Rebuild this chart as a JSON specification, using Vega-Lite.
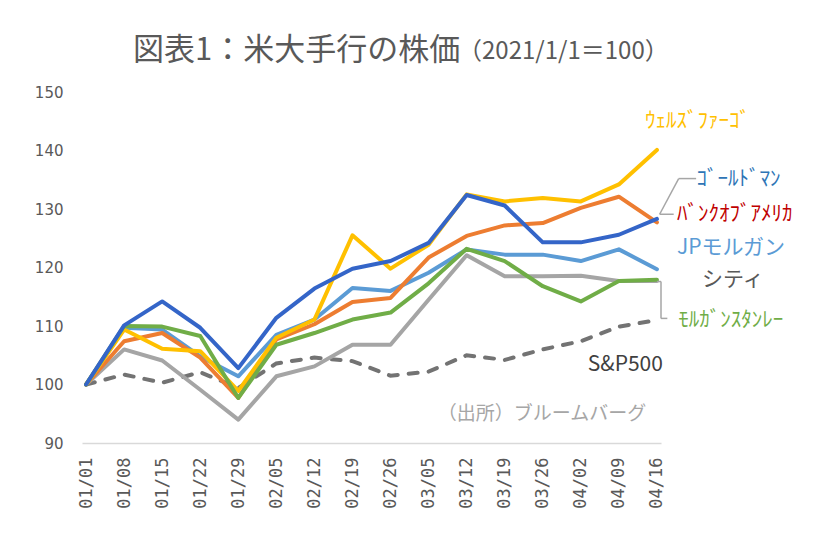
{
  "$schema": "https://vega.github.io/schema/vega-lite/v6.json",
  "width": 579,
  "height": 351,
  "autosize": {"type": "none"},
  "padding": {"left": 82, "top": 92, "right": 161, "bottom": 104},
  "background": "white",
  "datasets": {
    "prices": [
      {"date": "2021-01-01", "wells": 100, "goldman": 100, "bofa": 100, "jpm": 100, "citi": 100, "ms": 100, "sp": 100},
      {"date": "2021-01-08", "wells": 109.4, "goldman": 110.1, "bofa": 107.4, "jpm": 109.7, "citi": 106.0, "ms": 110.0, "sp": 101.7},
      {"date": "2021-01-15", "wells": 106.1, "goldman": 114.2, "bofa": 108.8, "jpm": 109.4, "citi": 104.1, "ms": 109.9, "sp": 100.3},
      {"date": "2021-01-22", "wells": 105.7, "goldman": 109.7, "bofa": 104.6, "jpm": 104.8, "citi": 99.1, "ms": 108.3, "sp": 102.1},
      {"date": "2021-01-29", "wells": 98.9, "goldman": 102.8, "bofa": 97.7, "jpm": 101.4, "citi": 94.0, "ms": 97.7, "sp": 99.4},
      {"date": "2021-02-05", "wells": 108.0, "goldman": 111.4, "bofa": 107.7, "jpm": 108.5, "citi": 101.4, "ms": 106.8, "sp": 103.6},
      {"date": "2021-02-12", "wells": 111.1, "goldman": 116.4, "bofa": 110.3, "jpm": 111.1, "citi": 103.1, "ms": 108.8, "sp": 104.6},
      {"date": "2021-02-19", "wells": 125.5, "goldman": 119.8, "bofa": 114.1, "jpm": 116.5, "citi": 106.8, "ms": 111.1, "sp": 104.0},
      {"date": "2021-02-26", "wells": 119.8, "goldman": 121.1, "bofa": 114.8, "jpm": 116.0, "citi": 106.8, "ms": 112.3, "sp": 101.5},
      {"date": "2021-03-05", "wells": 123.9, "goldman": 124.2, "bofa": 121.7, "jpm": 119.1, "citi": 114.5, "ms": 117.3, "sp": 102.2},
      {"date": "2021-03-12", "wells": 132.5, "goldman": 132.4, "bofa": 125.4, "jpm": 123.1, "citi": 122.1, "ms": 123.2, "sp": 105.0},
      {"date": "2021-03-19", "wells": 131.3, "goldman": 130.6, "bofa": 127.2, "jpm": 122.2, "citi": 118.5, "ms": 121.1, "sp": 104.2},
      {"date": "2021-03-26", "wells": 131.9, "goldman": 124.3, "bofa": 127.6, "jpm": 122.2, "citi": 118.5, "ms": 116.8, "sp": 106.0},
      {"date": "2021-04-02", "wells": 131.3, "goldman": 124.3, "bofa": 130.2, "jpm": 121.1, "citi": 118.6, "ms": 114.2, "sp": 107.4},
      {"date": "2021-04-09", "wells": 134.2, "goldman": 125.6, "bofa": 132.1, "jpm": 123.1, "citi": 117.7, "ms": 117.7, "sp": 109.9},
      {"date": "2021-04-16", "wells": 140.1, "goldman": 128.3, "bofa": 127.7, "jpm": 119.7, "citi": 117.7, "ms": 117.9, "sp": 111.0}
    ],
    "labels": [
      {"label": "ｳｪﾙｽﾞﾌｧｰｺﾞ", "date": "2021-04-13T19:00:00Z", "value": 145.1},
      {"label": "ｺﾞｰﾙﾄﾞﾏﾝ", "date": "2021-04-23T07:00:00Z", "value": 135.2},
      {"label": "ﾊﾞﾝｸｵﾌﾞｱﾒﾘｶ", "date": "2021-04-19T17:00:00Z", "value": 129.1},
      {"label": "JPモルガン", "date": "2021-04-19T17:00:00Z", "value": 123.4},
      {"label": "シティ", "date": "2021-04-24T07:00:00Z", "value": 117.9},
      {"label": "ﾓﾙｶﾞﾝｽﾀﾝﾚｰ", "date": "2021-04-19T22:00:00Z", "value": 111.1},
      {"label": "S&P500", "date": "2021-04-03T07:00:00Z", "value": 103.4}
    ],
    "notes": [
      {"label": "（出所）ブルームバーグ", "date": "2021-03-06T17:00:00Z", "value": 95.0}
    ],
    "heading": [
      {"label": "図表1：米大手行の株価", "date": "2021-01-09T15:00:00Z", "value": 157.0}
    ],
    "subheading": [
      {"label": "（2021/1/1＝100）", "date": "2021-03-10T10:00:00Z", "value": 156.9}
    ],
    "leaders": [
      {"date": "2021-04-23T05:00:00Z", "value": 135.2, "date2": "2021-04-20T00:00:00Z", "value2": 135.2},
      {"date": "2021-04-20T00:00:00Z", "value": 135.2, "date2": "2021-04-16T12:00:00Z", "value2": 129.1},
      {"date": "2021-04-16T12:00:00Z", "value": 129.1, "date2": "2021-04-19T02:00:00Z", "value2": 129.1},
      {"date": "2021-04-16T00:00:00Z", "value": 117.6, "date2": "2021-04-16T18:00:00Z", "value2": 117.6},
      {"date": "2021-04-16T18:00:00Z", "value": 117.6, "date2": "2021-04-16T18:00:00Z", "value2": 111.3},
      {"date": "2021-04-16T18:00:00Z", "value": 111.3, "date2": "2021-04-17T22:00:00Z", "value2": 111.3}
    ]
  },
  "resolve": {"scale": {"color": "independent"}},
  "layer": [
    {
      "data": {"name": "prices"},
      "mark": {"type": "line", "strokeWidth": 4, "strokeDash": [9, 11], "strokeCap": "round", "color": "#737373"},
      "encoding": {
        "x": {
          "field": "date", "type": "temporal",
          "scale": {"type": "utc", "domain": [{"year": 2020, "month": 12, "date": 31, "hours": 6, "utc": true}, {"year": 2021, "month": 4, "date": 16, "hours": 18, "utc": true}]},
          "axis": {
            "title": null,
            "labelExpr": "utcFormat(datum.value, '%m/%d')",
            "tickCount": 40,
            "values": [
              {"year": 2021, "month": 1, "date": 1, "utc": true},
              {"year": 2021, "month": 1, "date": 8, "utc": true},
              {"year": 2021, "month": 1, "date": 15, "utc": true},
              {"year": 2021, "month": 1, "date": 22, "utc": true},
              {"year": 2021, "month": 1, "date": 29, "utc": true},
              {"year": 2021, "month": 2, "date": 5, "utc": true},
              {"year": 2021, "month": 2, "date": 12, "utc": true},
              {"year": 2021, "month": 2, "date": 19, "utc": true},
              {"year": 2021, "month": 2, "date": 26, "utc": true},
              {"year": 2021, "month": 3, "date": 5, "utc": true},
              {"year": 2021, "month": 3, "date": 12, "utc": true},
              {"year": 2021, "month": 3, "date": 19, "utc": true},
              {"year": 2021, "month": 3, "date": 26, "utc": true},
              {"year": 2021, "month": 4, "date": 2, "utc": true},
              {"year": 2021, "month": 4, "date": 9, "utc": true},
              {"year": 2021, "month": 4, "date": 16, "utc": true}
            ],
            "labelAngle": -90,
            "labelAlign": "right",
            "labelBaseline": "middle",
            "labelFont": "DejaVu Sans Mono",
            "labelFontSize": 17,
            "labelColor": "#595959",
            "labelPadding": 14,
            "labelOverlap": false,
            "labelBound": false,
            "labelFlush": false,
            "labelSeparation": 0,
            "ticks": false,
            "grid": false,
            "domain": true,
            "domainColor": "#D9D9D9",
            "domainWidth": 1.5
          }
        },
        "y": {
          "field": "sp", "type": "quantitative",
          "scale": {"domain": [90, 150], "nice": false, "zero": false},
          "axis": {
            "title": null,
            "values": [90, 100, 110, 120, 130, 140, 150],
            "labelFont": "DejaVu Sans",
            "labelFontSize": 15,
            "labelColor": "#595959",
            "labelPadding": 19,
            "ticks": false,
            "grid": false,
            "domain": false
          }
        }
      }
    },
    {
      "data": {"name": "prices"},
      "transform": [{"fold": ["citi", "jpm", "bofa", "wells", "ms", "goldman"], "as": ["series", "value"]}],
      "mark": {"type": "line", "strokeWidth": 4, "strokeCap": "round", "strokeJoin": "round"},
      "encoding": {
        "x": {"field": "date", "type": "temporal"},
        "y": {"field": "value", "type": "quantitative"},
        "color": {
          "field": "series", "type": "nominal", "legend": null,
          "scale": {"domain": ["citi", "jpm", "bofa", "wells", "ms", "goldman"], "range": ["#A5A5A5", "#5B9BD5", "#ED7D31", "#FFC000", "#70AD47", "#3465C8"]}
        }
      }
    },
    {
      "data": {"name": "leaders"},
      "mark": {"type": "rule", "strokeWidth": 1.5, "color": "#A6A6A6"},
      "encoding": {
        "x": {"field": "date", "type": "temporal"},
        "x2": {"field": "date2"},
        "y": {"field": "value", "type": "quantitative"},
        "y2": {"field": "value2"}
      }
    },
    {
      "data": {"name": "labels"},
      "mark": {"type": "text", "align": "left", "baseline": "middle", "font": "Noto Sans CJK JP", "fontSize": 21},
      "encoding": {
        "x": {"field": "date", "type": "temporal"},
        "y": {"field": "value", "type": "quantitative"},
        "text": {"field": "label"},
        "color": {
          "field": "label", "type": "nominal", "legend": null,
          "scale": {"domain": ["ｳｪﾙｽﾞﾌｧｰｺﾞ", "ｺﾞｰﾙﾄﾞﾏﾝ", "ﾊﾞﾝｸｵﾌﾞｱﾒﾘｶ", "JPモルガン", "シティ", "ﾓﾙｶﾞﾝｽﾀﾝﾚｰ", "S&P500"], "range": ["#FFC000", "#2E75B6", "#C00000", "#5B9BD5", "#595959", "#70AD47", "#404040"]}
        }
      }
    },
    {
      "data": {"name": "notes"},
      "mark": {"type": "text", "align": "left", "baseline": "middle", "font": "Noto Sans CJK JP", "fontSize": 19, "color": "#A6A6A6"},
      "encoding": {
        "x": {"field": "date", "type": "temporal"},
        "y": {"field": "value", "type": "quantitative"},
        "text": {"field": "label"}
      }
    },
    {
      "data": {"name": "heading"},
      "mark": {"type": "text", "align": "left", "baseline": "middle", "font": "Noto Sans CJK JP", "fontSize": 31, "color": "#595959"},
      "encoding": {
        "x": {"field": "date", "type": "temporal"},
        "y": {"field": "value", "type": "quantitative"},
        "text": {"field": "label"}
      }
    },
    {
      "data": {"name": "subheading"},
      "mark": {"type": "text", "align": "left", "baseline": "middle", "font": "Noto Sans CJK JP", "fontSize": 24, "color": "#595959"},
      "encoding": {
        "x": {"field": "date", "type": "temporal"},
        "y": {"field": "value", "type": "quantitative"},
        "text": {"field": "label"}
      }
    }
  ],
  "config": {
    "view": {"stroke": null},
    "font": "Noto Sans CJK JP",
    "axisX": {"labelOverlap": false}
  }
}
